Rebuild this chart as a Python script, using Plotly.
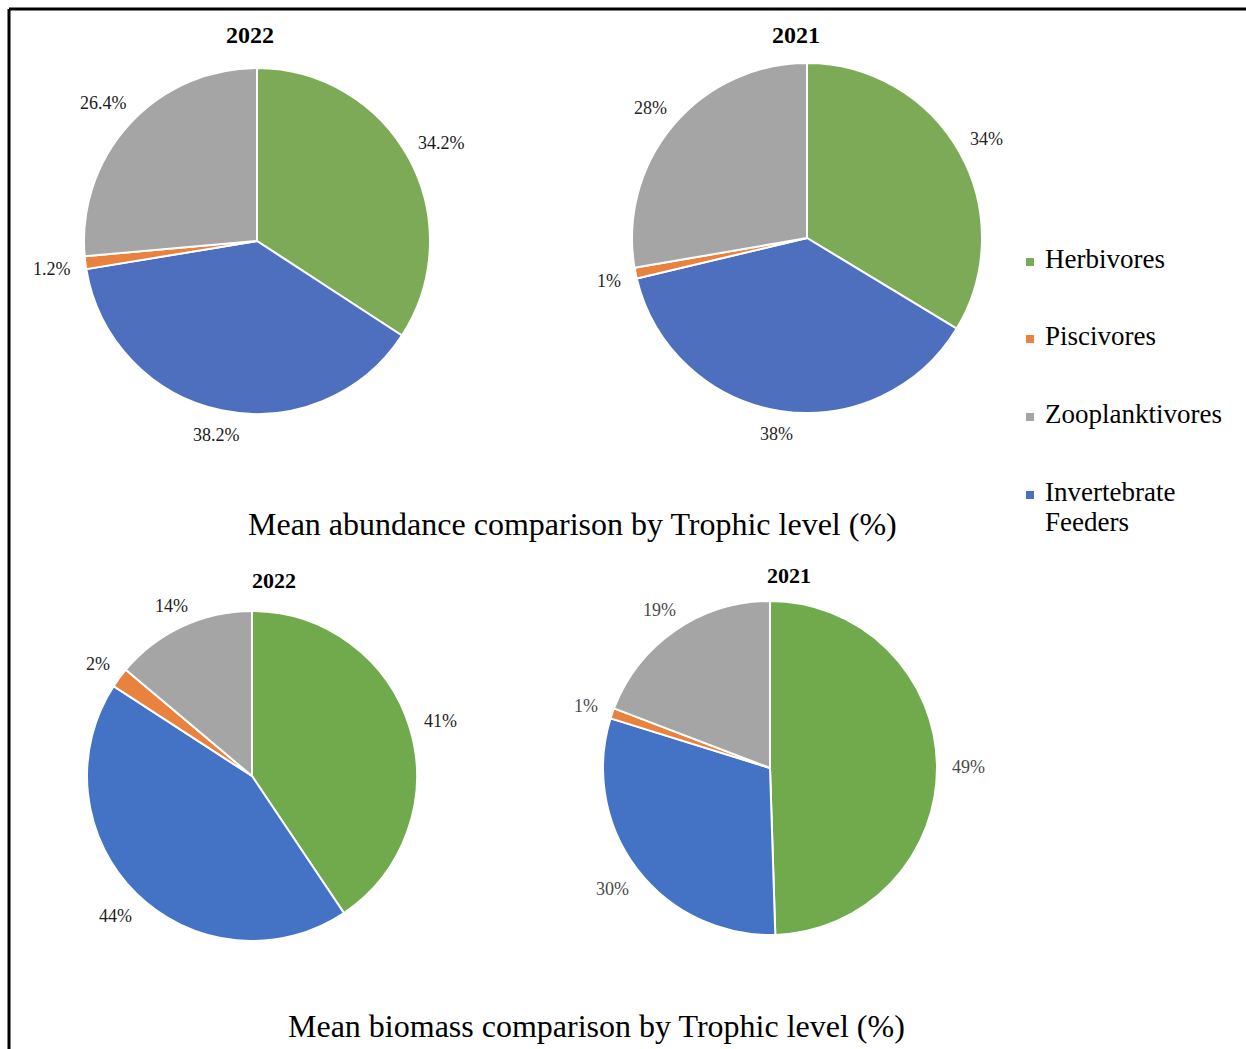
import math
import plotly.graph_objects as go

# Trophic groups, in the clockwise order the slices are drawn (starting at 12 o'clock)
groups = ["Herbivores", "Invertebrate Feeders", "Piscivores", "Zooplanktivores"]

# Mean abundance (%) by trophic level
abundance_2022 = [34.2, 38.2, 1.2, 26.4]
abundance_2021 = [34, 38, 1, 28]
abundance_2022_text = ["34.2%", "38.2%", "1.2%", "26.4%"]
abundance_2021_text = ["34%", "38%", "1%", "28%"]

# Mean biomass (%) by trophic level
biomass_2022 = [41, 44, 2, 14]
biomass_2021 = [49, 30, 1, 19]
biomass_2022_text = ["41%", "44%", "2%", "14%"]
biomass_2021_text = ["49%", "30%", "1%", "19%"]

# Legend order
legend_order = ["Herbivores", "Piscivores", "Zooplanktivores", "Invertebrate Feeders"]

W, H = 1246, 1049
SERIF = "Liberation Serif, Times New Roman, serif"

colors_top = {"Herbivores": "#7CAA57", "Invertebrate Feeders": "#4E6EBE",
              "Piscivores": "#E8823E", "Zooplanktivores": "#A5A5A5"}
colors_bottom = {"Herbivores": "#71AA4C", "Invertebrate Feeders": "#4473C5",
                 "Piscivores": "#E8823E", "Zooplanktivores": "#A5A5A5"}

# (values, label texts, year, center x px, center y px, radius px, colours, label colour, year y px)
panels = [
    (abundance_2022, abundance_2022_text, "2022", 257, 241, 173, colors_top, "#1a1a1a", 35),
    (abundance_2021, abundance_2021_text, "2021", 807, 238, 175, colors_top, "#262626", 35),
    (biomass_2022, biomass_2022_text, "2022", 252, 776, 165, colors_bottom, "#222222", 580),
    (biomass_2021, biomass_2021_text, "2021", 770, 768, 167, colors_bottom, "#4a4a4a", 575),
]
year_x = [250, 796, 274, 789]

LABEL_SIZE = 18


def text_width(s, size):
    w = 0.0
    for ch in s:
        if ch.isdigit():
            w += 0.5
        elif ch == ".":
            w += 0.25
        elif ch == "%":
            w += 0.833
        else:
            w += 0.5
    return w * size


fig = go.Figure()
annotations = []

for i, (vals, texts, year, cx, cy, r, cols, lab_col, yy) in enumerate(panels):
    fig.add_trace(go.Pie(
        labels=groups,
        values=vals,
        sort=False,
        direction="clockwise",
        rotation=0,
        textinfo="none",
        hoverinfo="label+percent",
        marker=dict(colors=[cols[g] for g in groups],
                    line=dict(color="white", width=2)),
        domain=dict(x=[(cx - r) / W, (cx + r) / W],
                    y=[1 - (cy + r) / H, 1 - (cy - r) / H]),
        showlegend=False,
    ))

    # outside-end data labels placed from each slice's mid-angle
    total = sum(vals)
    cum = 0.0
    for v, t in zip(vals, texts):
        mid = (cum + v / 2) / total * 2 * math.pi
        cum += v
        dx, dy = math.sin(mid), -math.cos(mid)
        hw = text_width(t, LABEL_SIZE) / 2
        hh = LABEL_SIZE * 0.2
        dist = r + 15 + hw * abs(dx) + hh * abs(dy)
        lx, ly = cx + dist * dx, cy + dist * dy + 2
        annotations.append(dict(
            x=lx / W, y=1 - ly / H, xref="paper", yref="paper",
            text=t, showarrow=False, xanchor="center", yanchor="middle",
            font=dict(family=SERIF, size=LABEL_SIZE, color=lab_col),
        ))

    annotations.append(dict(
        x=year_x[i] / W, y=1 - yy / H, xref="paper", yref="paper",
        text="<b>%s</b>" % year, showarrow=False, xanchor="center", yanchor="middle",
        font=dict(family=SERIF, size=24 if i < 2 else 22, color="black"),
    ))

# Section captions
annotations.append(dict(
    x=572 / W, y=1 - 524 / H, xref="paper", yref="paper",
    text="Mean abundance comparison by Trophic level (%)", showarrow=False,
    xanchor="center", yanchor="middle",
    font=dict(family=SERIF, size=32, color="black"),
))
annotations.append(dict(
    x=596 / W, y=1 - 1026 / H, xref="paper", yref="paper",
    text="Mean biomass comparison by Trophic level (%)", showarrow=False,
    xanchor="center", yanchor="middle",
    font=dict(family=SERIF, size=32, color="black"),
))

# Legend: small square swatches with serif labels
shapes = []
legend_y = {"Herbivores": 262, "Piscivores": 339, "Zooplanktivores": 417, "Invertebrate Feeders": 495}
for g in legend_order:
    y = legend_y[g]
    shapes.append(dict(
        type="rect", xref="paper", yref="paper",
        x0=1026 / W, x1=1034 / W, y0=1 - (y + 4) / H, y1=1 - (y - 4) / H,
        fillcolor=colors_top[g], line=dict(width=0),
    ))
    lines = g.split(" ") if g == "Invertebrate Feeders" else [g]
    for k, line in enumerate(lines):
        annotations.append(dict(
            x=1043 / W, y=1 - (y - 3 + 30 * k) / H, xref="paper", yref="paper",
            text=line, showarrow=False, xanchor="left", yanchor="middle",
            font=dict(family=SERIF, size=27, color="black"),
        ))

# Frame lines along the top and left edges
shapes.append(dict(type="line", xref="paper", yref="paper",
                   x0=9 / W, x1=1.0, y0=1 - 9 / H, y1=1 - 9 / H,
                   line=dict(color="black", width=3)))
shapes.append(dict(type="line", xref="paper", yref="paper",
                   x0=9 / W, x1=9 / W, y0=0, y1=1 - 9 / H,
                   line=dict(color="black", width=3)))

fig.update_layout(
    width=W, height=H,
    margin=dict(l=0, r=0, t=0, b=0),
    paper_bgcolor="white", plot_bgcolor="white",
    annotations=annotations,
    shapes=shapes,
    showlegend=False,
)

fig.write_html("out.html")
